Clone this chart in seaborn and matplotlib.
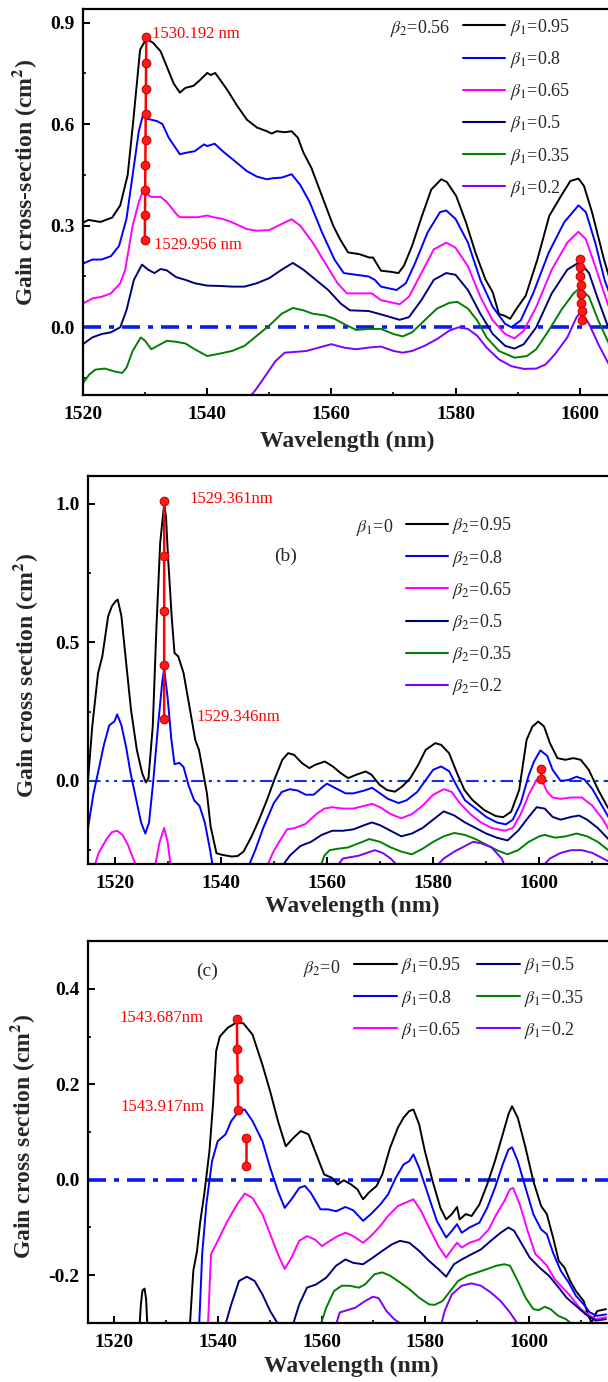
import matplotlib
matplotlib.use("Agg")
import matplotlib.pyplot as plt
import numpy as np
import pandas as pd
import seaborn as sns
from matplotlib.ticker import MultipleLocator, FormatStrFormatter

# ---------------------------------------------------------------- data
# (a) beta2 = 0.56, beta1 varied  -- (wavelength nm, gain cm^2)
A_095 = [(1520, 0.309), (1520.9, 0.317), (1522.8, 0.311), (1524.7, 0.324), (1526.0, 0.36), (1527.2, 0.45),
         (1528.1, 0.61), (1529.2, 0.82), (1530.2, 0.852), (1531.3, 0.84), (1532.5, 0.815), (1533.5, 0.77),
         (1534.6, 0.72), (1535.6, 0.693), (1536.5, 0.707), (1537.8, 0.713), (1538.9, 0.731), (1540.0, 0.751),
         (1540.6, 0.745), (1541.3, 0.751), (1543.2, 0.702), (1544.8, 0.655), (1546.4, 0.613), (1548.0, 0.59),
         (1549.6, 0.579), (1550.4, 0.572), (1551.2, 0.579), (1552.5, 0.576), (1553.6, 0.579), (1554.6, 0.56),
         (1555.5, 0.516), (1556.8, 0.47), (1558.3, 0.397), (1560.3, 0.30), (1561.4, 0.260), (1562.7, 0.221),
         (1564.5, 0.216), (1566.1, 0.206), (1566.7, 0.206), (1568.0, 0.167), (1569.5, 0.164), (1570.8, 0.160),
         (1571.7, 0.182), (1573.0, 0.240), (1574.6, 0.329), (1576.1, 0.407), (1577.7, 0.437), (1578.6, 0.429),
         (1580.1, 0.388), (1581.7, 0.309), (1583.2, 0.221), (1584.8, 0.142), (1586.0, 0.103), (1587.0, 0.039),
         (1587.9, 0.034), (1588.8, 0.025), (1589.8, 0.054), (1591.3, 0.093), (1593.2, 0.201), (1595.1, 0.329),
         (1597.0, 0.388), (1598.5, 0.432), (1599.8, 0.439), (1600.7, 0.417), (1602.0, 0.339), (1603.9, 0.201),
         (1605.2, 0.12), (1607, 0.03), (1610, -0.06)]
A_080 = [(1520, 0.188), (1521.5, 0.2), (1523, 0.2), (1524.5, 0.21), (1525.8, 0.24), (1527, 0.32), (1528, 0.45),
         (1529, 0.58), (1529.6, 0.622), (1530.5, 0.615), (1531.9, 0.609), (1532.8, 0.6), (1533.8, 0.56),
         (1535.6, 0.511), (1536.5, 0.515), (1538, 0.52), (1539.5, 0.54), (1540, 0.535), (1541.2, 0.542),
         (1542.5, 0.52), (1544.5, 0.49), (1546.4, 0.461), (1548, 0.445), (1549.6, 0.437), (1550.5, 0.44),
         (1552, 0.442), (1553.6, 0.452), (1555, 0.42), (1556.5, 0.37), (1558.5, 0.28), (1560.5, 0.2),
         (1562, 0.16), (1564, 0.155), (1566, 0.15), (1567, 0.14), (1568, 0.12), (1570.5, 0.11), (1572, 0.13),
         (1573.5, 0.19), (1575.5, 0.28), (1577.5, 0.34), (1578.5, 0.345), (1580, 0.32), (1582, 0.25),
         (1584, 0.14), (1586, 0.06), (1588, 0.01), (1589, 0.0), (1590.5, 0.02), (1592.5, 0.1), (1595, 0.22),
         (1597.5, 0.31), (1599.8, 0.36), (1601, 0.34), (1602.5, 0.25), (1604, 0.14), (1606, 0.04), (1610, -0.08)]
A_065 = [(1520, 0.07), (1521.5, 0.085), (1523, 0.09), (1524.5, 0.1), (1526, 0.13), (1526.8, 0.17), (1528, 0.3),
         (1529, 0.37), (1529.6, 0.4), (1531, 0.385), (1532.5, 0.385), (1533.5, 0.37), (1535, 0.335),
         (1535.6, 0.325), (1537, 0.325), (1538.5, 0.325), (1540, 0.33), (1541, 0.325), (1542.5, 0.32),
         (1544, 0.31), (1546.4, 0.29), (1548, 0.285), (1550, 0.287), (1552, 0.305), (1553.6, 0.319),
         (1555, 0.3), (1557, 0.25), (1559, 0.19), (1561, 0.13), (1562.5, 0.1), (1565, 0.1), (1566.5, 0.1),
         (1568, 0.08), (1571, 0.068), (1572.5, 0.09), (1574.5, 0.16), (1576.5, 0.23), (1578.5, 0.25),
         (1580, 0.235), (1582, 0.18), (1584, 0.09), (1586, 0.02), (1588, -0.02), (1589.5, -0.033),
         (1591, -0.01), (1593, 0.06), (1595.5, 0.17), (1598, 0.25), (1599.8, 0.282), (1601, 0.26),
         (1602.5, 0.18), (1604.5, 0.07), (1607, -0.04), (1610, -0.1)]
A_050 = [(1520, -0.05), (1521.5, -0.03), (1523, -0.02), (1524.5, -0.015), (1526, 0.0), (1527, 0.05),
         (1528.2, 0.14), (1529.5, 0.185), (1530.5, 0.17), (1531.5, 0.16), (1532.5, 0.172), (1533.5, 0.168),
         (1535, 0.148), (1536.5, 0.14), (1538, 0.13), (1540, 0.123), (1542, 0.122), (1544, 0.12),
         (1546, 0.12), (1548, 0.13), (1550, 0.145), (1552, 0.17), (1553.8, 0.19), (1555.5, 0.17),
         (1557.5, 0.14), (1559.5, 0.11), (1561.5, 0.07), (1563, 0.05), (1566, 0.048), (1568, 0.038),
         (1571, 0.022), (1572.5, 0.03), (1574.5, 0.08), (1576.5, 0.14), (1578.5, 0.16), (1580, 0.155),
         (1582, 0.11), (1584, 0.04), (1586, -0.02), (1588, -0.055), (1589.5, -0.063), (1591, -0.05),
         (1593, 0.0), (1595.5, 0.1), (1598, 0.17), (1600, 0.193), (1601.5, 0.16), (1603, 0.08),
         (1605, -0.02), (1607, -0.08), (1610, -0.12)]
A_035 = [(1520, -0.165), (1521, -0.14), (1522, -0.125), (1523.5, -0.122), (1525, -0.13), (1526.3, -0.135),
         (1527, -0.12), (1528, -0.07), (1529.3, -0.03), (1530, -0.04), (1531, -0.065), (1532, -0.055),
         (1533.5, -0.04), (1535, -0.043), (1536.5, -0.048), (1538, -0.065), (1540, -0.085), (1542, -0.078),
         (1544, -0.07), (1546, -0.055), (1548, -0.025), (1550, 0.005), (1552, 0.04), (1553.8, 0.057),
         (1555.5, 0.05), (1557, 0.04), (1559, 0.035), (1560.5, 0.025), (1562, 0.01), (1564, -0.008),
         (1566, -0.005), (1568, -0.005), (1570, -0.02), (1571.5, -0.027), (1573, -0.015), (1575, 0.02),
         (1577, 0.055), (1579, 0.072), (1580.3, 0.075), (1582, 0.055), (1583.5, 0.02), (1585, -0.03),
         (1587, -0.07), (1589.5, -0.09), (1591.5, -0.085), (1593, -0.065), (1595, -0.01), (1597, 0.05),
         (1599, 0.1), (1600, 0.115), (1601.5, 0.09), (1603, 0.02), (1605, -0.06), (1607, -0.11), (1610, -0.15)]
A_020 = [(1546.5, -0.215), (1548, -0.18), (1549.5, -0.14), (1551, -0.1), (1552.5, -0.075), (1554, -0.073),
         (1556, -0.07), (1558, -0.06), (1560, -0.05), (1562, -0.06), (1564, -0.065), (1566, -0.06),
         (1568, -0.057), (1570, -0.07), (1571.5, -0.075), (1573, -0.07), (1575, -0.055), (1577, -0.035),
         (1579, -0.01), (1580.5, 0.0), (1582, -0.005), (1583.5, -0.025), (1585, -0.06), (1587, -0.095),
         (1589, -0.115), (1591, -0.123), (1593, -0.122), (1594.5, -0.11), (1596, -0.08), (1598, -0.03),
         (1599.5, 0.03), (1600.2, 0.045), (1601.5, 0.01), (1603, -0.05), (1605, -0.12), (1607, -0.17),
         (1610, -0.2)]

# (b) beta1 = 0, beta2 varied
B_095 = [(1515, 0.0), (1515.8, 0.196), (1516.9, 0.389), (1517.7, 0.449), (1518.8, 0.594), (1519.5, 0.63),
         (1520.2, 0.648), (1520.6, 0.654), (1521.3, 0.594), (1522.0, 0.461), (1523.1, 0.257), (1524.2, 0.112),
         (1525.2, 0.028), (1525.9, -0.006), (1526.4, 0.01), (1527.2, 0.196), (1527.9, 0.558), (1528.6, 0.859),
         (1529.35, 1.0), (1529.7, 0.95), (1530.1, 0.799), (1530.8, 0.582), (1531.3, 0.461), (1532.0, 0.449),
         (1533.0, 0.389), (1534.1, 0.269), (1535.2, 0.148), (1535.9, 0.112), (1536.6, 0.04), (1537.4, -0.045),
         (1538.1, -0.165), (1539.2, -0.261), (1540.3, -0.267), (1542.1, -0.273), (1543.2, -0.271),
         (1544.3, -0.255), (1545.8, -0.201), (1547.2, -0.141), (1548.7, -0.069), (1550.1, 0.004),
         (1551.6, 0.076), (1552.7, 0.1), (1553.8, 0.094), (1555.3, 0.064), (1556.7, 0.046), (1557.8, 0.058),
         (1559.6, 0.07), (1561.1, 0.052), (1562.6, 0.028), (1564.0, 0.01), (1565.5, 0.022), (1567.3, 0.034),
         (1568.4, 0.022), (1569.9, -0.014), (1571.3, -0.033), (1572.8, -0.039), (1574.2, -0.02),
         (1575.7, 0.01), (1577.2, 0.058), (1578.6, 0.112), (1580.4, 0.136), (1581.5, 0.13), (1583.0, 0.1),
         (1584.5, 0.028), (1585.9, -0.033), (1587.4, -0.069), (1589.6, -0.105), (1591.8, -0.127),
         (1593.2, -0.131), (1594.7, -0.111), (1596.2, -0.033), (1597.6, 0.148), (1598.7, 0.196),
         (1599.8, 0.214), (1600.9, 0.196), (1602.0, 0.136), (1603.4, 0.082), (1604.9, 0.076), (1606.4, 0.082),
         (1607.8, 0.076), (1609.3, 0.04), (1611.1, -0.033), (1612.8, -0.093), (1615, -0.15)]
B_080 = [(1515, -0.171), (1516, -0.05), (1517, 0.04), (1518, 0.13), (1519, 0.2), (1520, 0.215),
         (1520.5, 0.24), (1521.3, 0.2), (1522.2, 0.12), (1523, 0.03), (1524, -0.06), (1525, -0.15),
         (1525.8, -0.19), (1526.5, -0.15), (1527.3, 0.0), (1528.2, 0.2), (1529.0, 0.36), (1529.35, 0.405),
         (1530, 0.3), (1530.7, 0.15), (1531.3, 0.06), (1532.2, 0.065), (1533, 0.05), (1534, -0.02),
         (1535, -0.07), (1536, -0.09), (1537, -0.15), (1538, -0.25), (1538.5, -0.31), (1539.5, -0.45),
         (1544.5, -0.45), (1545.2, -0.31), (1546.5, -0.25), (1548, -0.17), (1550, -0.08), (1551.5, -0.04),
         (1553, -0.03), (1554.5, -0.035), (1556, -0.05), (1557.5, -0.05), (1559, -0.025), (1560, -0.01),
         (1561.5, -0.025), (1563.5, -0.045), (1565, -0.045), (1567, -0.035), (1568.5, -0.025), (1570, -0.045),
         (1571.5, -0.065), (1573.5, -0.08), (1575, -0.07), (1577, -0.04), (1578.5, 0.0), (1580, 0.04),
         (1581.5, 0.052), (1583, 0.035), (1584.5, -0.02), (1586, -0.07), (1588, -0.1), (1590, -0.13),
         (1592, -0.15), (1593.7, -0.157), (1595, -0.14), (1596.5, -0.08), (1598, 0.02), (1599, 0.07),
         (1600.2, 0.11), (1601.5, 0.09), (1602.5, 0.04), (1604, 0.0), (1605.5, 0.003), (1607, 0.015),
         (1608.5, 0.005), (1610, -0.03), (1611.5, -0.08), (1613, -0.13), (1615, -0.18)]
B_065 = [(1515.5, -0.45), (1516.2, -0.31), (1517, -0.26), (1518.5, -0.21), (1519.5, -0.185), (1520.5, -0.18),
         (1521.5, -0.195), (1522.5, -0.23), (1523.5, -0.28), (1524.2, -0.31), (1525, -0.45), (1527, -0.45),
         (1527.6, -0.31), (1528.5, -0.22), (1529.35, -0.17), (1530, -0.22), (1530.6, -0.31), (1531.5, -0.45),
         (1548, -0.45), (1548.7, -0.31), (1549.8, -0.26), (1551, -0.22), (1552.5, -0.175), (1554, -0.17),
         (1556, -0.155), (1558, -0.12), (1559.5, -0.1), (1561, -0.095), (1563, -0.1), (1565, -0.1),
         (1567, -0.09), (1568.5, -0.083), (1570, -0.095), (1572, -0.12), (1574, -0.135), (1576, -0.12),
         (1578, -0.09), (1580, -0.05), (1582, -0.03), (1583.5, -0.04), (1585, -0.08), (1587, -0.12),
         (1589, -0.15), (1591, -0.17), (1593.5, -0.18), (1595, -0.17), (1596.5, -0.12), (1598, -0.05),
         (1599.5, 0.005), (1600.5, 0.0), (1601.5, -0.04), (1602.5, -0.06), (1604, -0.065), (1606, -0.06),
         (1608, -0.06), (1610, -0.09), (1612, -0.14), (1613.5, -0.19), (1615, -0.23)]
B_050 = [(1550.5, -0.45), (1551.5, -0.31), (1553, -0.27), (1555, -0.235), (1557, -0.22), (1559, -0.195),
         (1561, -0.18), (1563, -0.18), (1565, -0.175), (1567, -0.16), (1568.5, -0.15), (1570, -0.16),
         (1572, -0.18), (1574, -0.2), (1576, -0.19), (1578, -0.17), (1580, -0.14), (1582, -0.11),
         (1584, -0.125), (1586, -0.15), (1588, -0.17), (1590, -0.19), (1592, -0.205), (1594, -0.215),
         (1596, -0.18), (1598, -0.13), (1599.5, -0.095), (1601, -0.1), (1602.5, -0.13), (1604, -0.14),
         (1606, -0.13), (1607.5, -0.125), (1609, -0.14), (1611, -0.17), (1613, -0.21), (1615, -0.25)]
B_035 = [(1558, -0.45), (1558.8, -0.31), (1559.5, -0.27), (1560.5, -0.25), (1562, -0.245), (1564, -0.24),
         (1566, -0.225), (1568, -0.21), (1570, -0.22), (1572, -0.24), (1574, -0.255), (1576, -0.265),
         (1578, -0.245), (1580, -0.22), (1582, -0.2), (1584, -0.188), (1586, -0.195), (1588, -0.21),
         (1590, -0.23), (1592, -0.25), (1594, -0.265), (1596, -0.25), (1598, -0.22), (1600, -0.2),
         (1601, -0.195), (1603, -0.205), (1605, -0.2), (1607, -0.19), (1609, -0.2), (1611, -0.22),
         (1613, -0.25), (1615, -0.28)]
B_020 = [(1561, -0.45), (1561.8, -0.31), (1563, -0.28), (1564.5, -0.275), (1566, -0.27), (1567.5, -0.26),
         (1569, -0.25), (1570.5, -0.26), (1572, -0.28), (1573.5, -0.31), (1574.5, -0.45), (1579.5, -0.45),
         (1580.5, -0.31), (1582, -0.28), (1584, -0.255), (1586, -0.235), (1587.5, -0.22), (1589, -0.225),
         (1591, -0.24), (1592.9, -0.28), (1593.6, -0.31), (1594.5, -0.45), (1599.5, -0.45), (1600.5, -0.31),
         (1602, -0.28), (1604, -0.26), (1606, -0.25), (1608, -0.25), (1610, -0.26), (1612, -0.28),
         (1615, -0.31)]

# (c) beta2 = 0, beta1 varied
C_095 = [(1515, -0.45), (1524.6, -0.45), (1524.9, -0.31), (1525.2, -0.26), (1525.5, -0.232), (1525.9, -0.228),
         (1526.2, -0.25), (1526.5, -0.32), (1527, -0.45), (1534, -0.45), (1534.6, -0.31), (1535.3, -0.19),
         (1536.0, -0.15), (1536.6, -0.09), (1537.4, -0.03), (1538.4, 0.06), (1539.1, 0.16), (1539.7, 0.27),
         (1540.4, 0.30), (1541.9, 0.318), (1543.4, 0.328), (1544.9, 0.328), (1546.7, 0.304), (1548.6, 0.241),
         (1550.1, 0.185), (1551.6, 0.123), (1553.1, 0.07), (1554.6, 0.088), (1556.0, 0.102), (1557.5, 0.095),
         (1559.0, 0.053), (1560.5, 0.011), (1562.0, 0.004), (1563.1, -0.01), (1564.3, -0.001), (1565.7, -0.01),
         (1566.9, -0.02), (1568.0, -0.041), (1569.1, -0.027), (1570.6, -0.013), (1571.7, 0.011),
         (1573.2, 0.067), (1574.7, 0.109), (1575.8, 0.13), (1576.9, 0.144), (1577.7, 0.147), (1578.8, 0.116),
         (1579.9, 0.06), (1581.4, -0.003), (1582.9, -0.059), (1584.0, -0.083), (1585.1, -0.072),
         (1586.1, -0.057), (1586.6, -0.083), (1587.8, -0.072), (1588.9, -0.076), (1590.4, -0.052),
         (1591.9, -0.01), (1593.4, 0.039), (1594.9, 0.095), (1596.0, 0.137), (1596.7, 0.154), (1597.8, 0.13),
         (1599.3, 0.067), (1600.8, -0.003), (1602.3, -0.055), (1603.4, -0.072), (1604.6, -0.121),
         (1605.7, -0.17), (1606.8, -0.184), (1607.9, -0.212), (1609.0, -0.233), (1610.5, -0.254),
         (1611.3, -0.282), (1612.0, -0.299), (1613.1, -0.275), (1614.8, -0.271)]
C_080 = [(1535.8, -0.45), (1536.4, -0.31), (1537.0, -0.156), (1537.8, -0.052), (1538.9, 0.039), (1540.0, 0.081),
         (1541.5, 0.095), (1542.6, 0.123), (1544.1, 0.144), (1545.2, 0.147), (1546.7, 0.123), (1548.6, 0.081),
         (1550.1, 0.025), (1551.6, -0.024), (1552.9, -0.059), (1554.2, -0.041), (1555.7, -0.017),
         (1556.8, -0.013), (1557.9, -0.027), (1559.8, -0.062), (1561.3, -0.062), (1562.8, -0.066),
         (1564.6, -0.057), (1566.1, -0.064), (1568.0, -0.086), (1569.5, -0.072), (1571.3, -0.052),
         (1572.8, -0.031), (1574.3, 0.004), (1575.8, 0.032), (1576.9, 0.039), (1577.7, 0.053), (1578.8, 0.025),
         (1580.3, -0.024), (1582.2, -0.086), (1584.0, -0.121), (1585.1, -0.107), (1586.1, -0.093),
         (1587.0, -0.111), (1588.5, -0.1), (1590.4, -0.09), (1591.9, -0.059), (1593.4, -0.017),
         (1594.9, 0.032), (1596.0, 0.063), (1596.7, 0.068), (1597.8, 0.039), (1599.3, -0.017),
         (1600.8, -0.072), (1602.3, -0.104), (1603.4, -0.114), (1604.6, -0.153), (1606.1, -0.191),
         (1607.6, -0.215), (1609.0, -0.243), (1610.5, -0.261), (1611.7, -0.278), (1613.1, -0.285),
         (1614.8, -0.282)]
C_065 = [(1537.5, -0.45), (1538.1, -0.31), (1538.7, -0.156), (1540.0, -0.128), (1541.9, -0.086),
         (1543.7, -0.052), (1545.2, -0.029), (1546.7, -0.038), (1548.6, -0.072), (1550.1, -0.114),
         (1551.6, -0.156), (1552.9, -0.187), (1554.2, -0.163), (1555.7, -0.128), (1557.2, -0.118),
         (1558.7, -0.125), (1560.1, -0.139), (1561.6, -0.128), (1563.1, -0.118), (1564.6, -0.111),
         (1566.1, -0.118), (1568.0, -0.132), (1569.5, -0.118), (1571.3, -0.097), (1572.8, -0.076),
         (1574.7, -0.055), (1576.2, -0.048), (1577.7, -0.041), (1579.2, -0.066), (1580.7, -0.1),
         (1582.5, -0.139), (1584.0, -0.163), (1585.1, -0.146), (1586.1, -0.132), (1587.0, -0.142),
         (1588.5, -0.132), (1590.4, -0.125), (1592.2, -0.104), (1593.7, -0.072), (1595.2, -0.045),
         (1596.3, -0.02), (1596.9, -0.017), (1598.2, -0.052), (1599.7, -0.107), (1601.2, -0.156),
         (1602.3, -0.167), (1603.4, -0.18), (1604.9, -0.208), (1606.4, -0.226), (1607.9, -0.243),
         (1609.7, -0.268), (1611.3, -0.282), (1612.8, -0.292), (1614.8, -0.288)]
C_050 = [(1540.7, -0.45), (1541.3, -0.31), (1542.6, -0.261), (1544.1, -0.212), (1545.6, -0.203),
         (1547.1, -0.212), (1548.6, -0.24), (1550.1, -0.275), (1551.6, -0.302), (1552.5, -0.45),
         (1553.7, -0.45), (1554.3, -0.31), (1555.7, -0.261), (1557.2, -0.226), (1559.0, -0.219),
         (1560.9, -0.205), (1562.8, -0.18), (1564.6, -0.167), (1566.1, -0.174), (1568.0, -0.177),
         (1569.9, -0.163), (1571.7, -0.149), (1573.6, -0.135), (1575.1, -0.128), (1576.9, -0.132),
         (1578.8, -0.149), (1580.7, -0.17), (1582.5, -0.187), (1584.0, -0.203), (1585.5, -0.177),
         (1587.0, -0.167), (1588.9, -0.156), (1590.7, -0.146), (1592.6, -0.128), (1594.5, -0.111),
         (1596.0, -0.1), (1597.1, -0.107), (1598.6, -0.135), (1600.1, -0.163), (1602.0, -0.184),
         (1603.8, -0.201), (1605.7, -0.226), (1607.2, -0.247), (1609.0, -0.264), (1610.9, -0.282),
         (1612.8, -0.295), (1614.8, -0.292)]
C_035 = [(1559.0, -0.45), (1559.6, -0.31), (1560.9, -0.268), (1562.4, -0.233), (1563.9, -0.222),
         (1565.4, -0.222), (1567.2, -0.226), (1568.4, -0.219), (1570.2, -0.198), (1571.7, -0.194),
         (1573.2, -0.201), (1575.1, -0.215), (1576.9, -0.229), (1578.8, -0.247), (1580.7, -0.261),
         (1581.8, -0.262), (1583.3, -0.254), (1584.8, -0.233), (1586.3, -0.212), (1588.1, -0.201),
         (1590.0, -0.194), (1591.9, -0.187), (1593.7, -0.18), (1595.2, -0.177), (1596.3, -0.18),
         (1597.8, -0.212), (1599.3, -0.247), (1600.8, -0.271), (1601.9, -0.273), (1603.0, -0.266),
         (1604.1, -0.271), (1605.6, -0.285), (1607.1, -0.292), (1608.2, -0.302), (1609.0, -0.306),
         (1610.5, -0.45)]
C_020 = [(1562.0, -0.45), (1562.6, -0.31), (1563.5, -0.278), (1565.0, -0.273), (1566.5, -0.268),
         (1568.4, -0.254), (1569.9, -0.245), (1571.0, -0.248), (1572.5, -0.275), (1574.0, -0.292),
         (1575.8, -0.306), (1577.0, -0.45), (1582.3, -0.45), (1582.9, -0.31), (1583.7, -0.275),
         (1585.1, -0.24), (1587.0, -0.222), (1588.9, -0.217), (1590.7, -0.222), (1592.6, -0.236),
         (1594.5, -0.254), (1596.3, -0.278), (1597.8, -0.302), (1599.0, -0.45)]

# peak-tracking markers
A_PEAK1_WL = [1530.192, 1530.163, 1530.133, 1530.104, 1530.074, 1530.045, 1530.015, 1529.986, 1529.956]
A_PEAK1_G = [0.856, 0.779, 0.704, 0.629, 0.554, 0.479, 0.405, 0.332, 0.259]
A_PEAK2_WL = [1600.05, 1600.08, 1600.12, 1600.16, 1600.2, 1600.25, 1600.3, 1600.38]
A_PEAK2_G = [0.203, 0.177, 0.150, 0.125, 0.099, 0.073, 0.047, 0.022]
B_PEAK1_WL = [1529.361, 1529.357, 1529.354, 1529.350, 1529.346]
B_PEAK1_G = [1.010, 0.812, 0.614, 0.419, 0.222]
B_PEAK2_WL = [1600.3, 1600.3]
B_PEAK2_G = [0.042, 0.007]
C_PEAK1_WL = [1543.687, 1543.75, 1543.85, 1543.917]
C_PEAK1_G = [0.337, 0.274, 0.211, 0.147]
C_PEAK2_WL = [1545.4, 1545.4]
C_PEAK2_G = [0.088, 0.029]

LEVELS = ["0.95", "0.8", "0.65", "0.5", "0.35", "0.2"]
COLORS = ["#000000", "#0000ff", "#ff00ff", "#00007f", "#007f00", "#7f00ff"]

# ---------------------------------------------------------------- style
sns.set_style("ticks")
plt.rcParams.update({
    "font.family": ["Liberation Serif", "DejaVu Serif"],
    "mathtext.fontset": "stix",
    "axes.unicode_minus": False,
    "axes.linewidth": 1.6,
    "xtick.direction": "in",
    "ytick.direction": "in",
    "xtick.major.size": 5,
    "ytick.major.size": 5,
    "xtick.minor.size": 2.5,
    "ytick.minor.size": 2.5,
    "xtick.major.width": 1.4,
    "ytick.major.width": 1.4,
    "xtick.minor.width": 1.2,
    "ytick.minor.width": 1.2,
    "xtick.color": "black",
    "ytick.color": "black",
    "axes.edgecolor": "black",
})

fig = plt.figure(figsize=(6.08, 13.82), dpi=100)
# the right-hand spines lie just past the figure edge
ax_a = fig.add_axes([0.1365, 0.7142, 0.868, 0.2793])
ax_b = fig.add_axes([0.1447, 0.3748, 0.869, 0.2808])
ax_c = fig.add_axes([0.1447, 0.0427, 0.858, 0.2764])


def long_frame(series, tag):
    rows = []
    for lvl, pts in zip(LEVELS, series):
        for wl, g in pts:
            rows.append((f"{tag}={lvl}", wl, g))
    return pd.DataFrame(rows, columns=["beta", "wl", "gain"])


def draw_curves(ax, series, tag):
    df = long_frame(series, tag)
    order = [f"{tag}={lvl}" for lvl in LEVELS]
    sns.lineplot(data=df, x="wl", y="gain", hue="beta", hue_order=order,
                 palette=COLORS, sort=False, estimator=None, lw=1.4,
                 legend=False, ax=ax)
    return list(ax.get_lines()[:6])


def peak_track(ax, wl, g):
    ax.plot(wl, g, color="red", lw=1.8, marker="o", ms=6.2,
            mfc="#ff1a1a", mec="#d00000", mew=0.8, zorder=6)


def style_axes(ax, xlim, ylim, ymajor, yminor, xlabel_pos, ylabel, ylabel_pos):
    ax.set_xlim(*xlim)
    ax.set_ylim(*ylim)
    ax.xaxis.set_major_locator(MultipleLocator(20))
    ax.xaxis.set_minor_locator(MultipleLocator(10))
    ax.yaxis.set_major_locator(MultipleLocator(ymajor))
    ax.yaxis.set_minor_locator(MultipleLocator(yminor))
    ax.yaxis.set_major_formatter(FormatStrFormatter("%.1f"))
    ax.tick_params(axis="x", which="both", top=False, pad=8, labelsize=14)
    ax.tick_params(axis="y", which="both", right=False, pad=6, labelsize=14)
    for lab in ax.get_xticklabels() + ax.get_yticklabels():
        lab.set_fontweight("bold")
    ax.set_xlabel("Wavelength (nm)", fontsize=17, fontweight="bold")
    ax.set_ylabel(ylabel, fontsize=17, fontweight="bold")
    ax.xaxis.set_label_coords(*xlabel_pos)
    ax.yaxis.set_label_coords(*ylabel_pos)
    for side in ["top", "left", "bottom", "right"]:
        ax.spines[side].set_visible(True)
        ax.spines[side].set_linewidth(1.6)


def make_legend(ax, handles, tag, anchor, ncol=1):
    labels = [rf"$\beta_{tag}$=" + lvl for lvl in LEVELS]
    leg = ax.legend(handles, labels, loc="upper left", bbox_to_anchor=anchor,
                    bbox_transform=ax.transData, frameon=False, ncol=ncol,
                    fontsize=13, handlelength=2.35, handletextpad=0.25,
                    labelspacing=0.62, borderpad=0, borderaxespad=0,
                    columnspacing=0.9)
    for line in leg.get_lines():
        line.set_linewidth(1.5)
    return leg


zero_kw_thick = dict(color="#0a1de6", lw=2.6, dashes=(5.0, 2.2, 1.4, 2.2), zorder=1)
zero_kw_thin = dict(color="#1a2ee6", lw=1.5, dashes=(6.0, 2.5, 1.5, 2.5, 1.5, 2.5), zorder=1)

# ---------------------------------------------------------------- (a)
h = draw_curves(ax_a, [A_095, A_080, A_065, A_050, A_035, A_020], "1")
ax_a.axhline(0, **zero_kw_thick)
peak_track(ax_a, A_PEAK1_WL, A_PEAK1_G)
peak_track(ax_a, A_PEAK2_WL, A_PEAK2_G)
ax_a.text(1531.1, 0.866, "1530.192 nm", color="red", fontsize=12, ha="left", va="center")
ax_a.text(1531.4, 0.243, "1529.956 nm", color="red", fontsize=12, ha="left", va="center")
ax_a.text(1569.5, 0.881, r"$\beta_2$=0.56", fontsize=13, ha="left", va="center")
make_legend(ax_a, h, "1", (1581.2, 0.917))
style_axes(ax_a, (1520, 1605), (-0.2, 0.94), 0.3, 0.15, (0.50, -0.093),
           r"Gain cross-section (cm$^{\mathbf{2}}$)", (-0.084, 0.55))

# ---------------------------------------------------------------- (b)
h = draw_curves(ax_b, [B_095, B_080, B_065, B_050, B_035, B_020], "2")
ax_b.axhline(0, **zero_kw_thin)
peak_track(ax_b, B_PEAK1_WL, B_PEAK1_G)
peak_track(ax_b, B_PEAK2_WL, B_PEAK2_G)
ax_b.text(1534.1, 1.018, "1529.361nm", color="red", fontsize=12, ha="left", va="center")
ax_b.text(1535.5, 0.232, "1529.346nm", color="red", fontsize=12, ha="left", va="center")
ax_b.text(1552.3, 0.811, "(b)", fontsize=14, ha="center", va="center")
ax_b.text(1565.5, 0.915, r"$\beta_1$=0", fontsize=13, ha="left", va="center")
make_legend(ax_b, h, "2", (1574.8, 0.958))
style_axes(ax_b, (1515, 1614.5), (-0.3, 1.1), 0.5, 0.25, (0.50, -0.082),
           r"Gain cross section (cm$^{\mathbf{2}}$)", (-0.09, 0.485))

# ---------------------------------------------------------------- (c)
h = draw_curves(ax_c, [C_095, C_080, C_065, C_050, C_035, C_020], "1")
ax_c.axhline(0, **zero_kw_thick)
peak_track(ax_c, C_PEAK1_WL, C_PEAK1_G)
peak_track(ax_c, C_PEAK2_WL, C_PEAK2_G)
ax_c.text(1537.2, 0.339, "1543.687nm", color="red", fontsize=12, ha="right", va="center")
ax_c.text(1537.4, 0.152, "1543.917nm", color="red", fontsize=12, ha="right", va="center")
ax_c.text(1537.9, 0.436, "(c)", fontsize=14, ha="center", va="center")
ax_c.text(1556.4, 0.443, r"$\beta_2$=0", fontsize=13, ha="left", va="center")
make_legend(ax_c, h, "1", (1566.3, 0.47), ncol=2)
style_axes(ax_c, (1515, 1615.5), (-0.3, 0.5), 0.2, 0.1, (0.505, -0.086),
           r"Gain cross section (cm$^{\mathbf{2}}$)", (-0.098, 0.487))

fig.savefig("out.png", dpi=100)
